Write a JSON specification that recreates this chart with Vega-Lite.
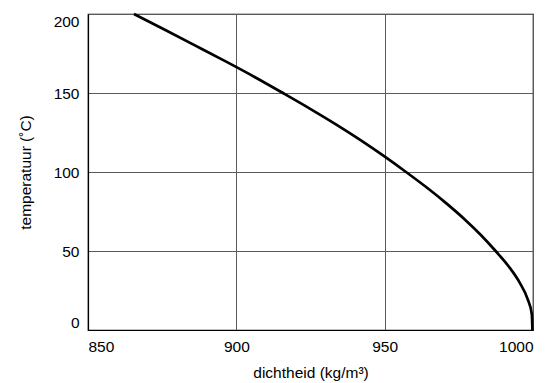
{
  "$schema": "https://vega.github.io/schema/vega-lite/v6.json",
  "width": 445,
  "height": 316,
  "autosize": {"type": "none"},
  "padding": {"left": 88, "top": 14, "right": 16, "bottom": 53},
  "background": "white",
  "config": {
    "font": "Liberation Sans",
    "view": {"stroke": "black", "strokeWidth": 1.2},
    "axis": {
      "domainColor": "black",
      "domainWidth": 1.2,
      "gridColor": "#5a5a5a",
      "gridWidth": 1,
      "gridOpacity": 1,
      "ticks": false,
      "labelFont": "Liberation Sans",
      "labelFontSize": 15.5,
      "labelColor": "black",
      "titleFont": "Liberation Sans",
      "titleFontWeight": "normal",
      "titleColor": "black",
      "titleFontSize": 15.5,
      "labelFlush": true
    }
  },
  "data": {
    "values": [
      {"T": 0, "rho": 999.8},
      {"T": 10, "rho": 999.6},
      {"T": 20, "rho": 998.1},
      {"T": 30, "rho": 995.5},
      {"T": 40, "rho": 991.9},
      {"T": 50, "rho": 987.4},
      {"T": 60, "rho": 982.5},
      {"T": 70, "rho": 977.0},
      {"T": 80, "rho": 970.9},
      {"T": 90, "rho": 964.3},
      {"T": 100, "rho": 957.2},
      {"T": 110, "rho": 949.8},
      {"T": 120, "rho": 942.0},
      {"T": 130, "rho": 933.7},
      {"T": 140, "rho": 924.9},
      {"T": 150, "rho": 915.7},
      {"T": 160, "rho": 906.3},
      {"T": 170, "rho": 896.4},
      {"T": 180, "rho": 886.2},
      {"T": 190, "rho": 875.9},
      {"T": 200, "rho": 865.5}
    ]
  },
  "mark": {"type": "line", "color": "black", "strokeWidth": 2.7, "interpolate": "monotone"},
  "encoding": {
    "x": {
      "field": "rho",
      "type": "quantitative",
      "scale": {"domain": [850, 1000], "nice": false, "zero": false},
      "axis": {"values": [850, 900, 950, 1000], "format": "d", "title": "dichtheid (kg/m³)", "labelPadding": 9, "titlePadding": 11}
    },
    "y": {
      "field": "T",
      "type": "quantitative",
      "scale": {"domain": [0, 200], "nice": false},
      "axis": {"values": [0, 50, 100, 150, 200], "title": "temperatuur (˚C)", "labelPadding": 9, "titlePadding": 20}
    }
  }
}
